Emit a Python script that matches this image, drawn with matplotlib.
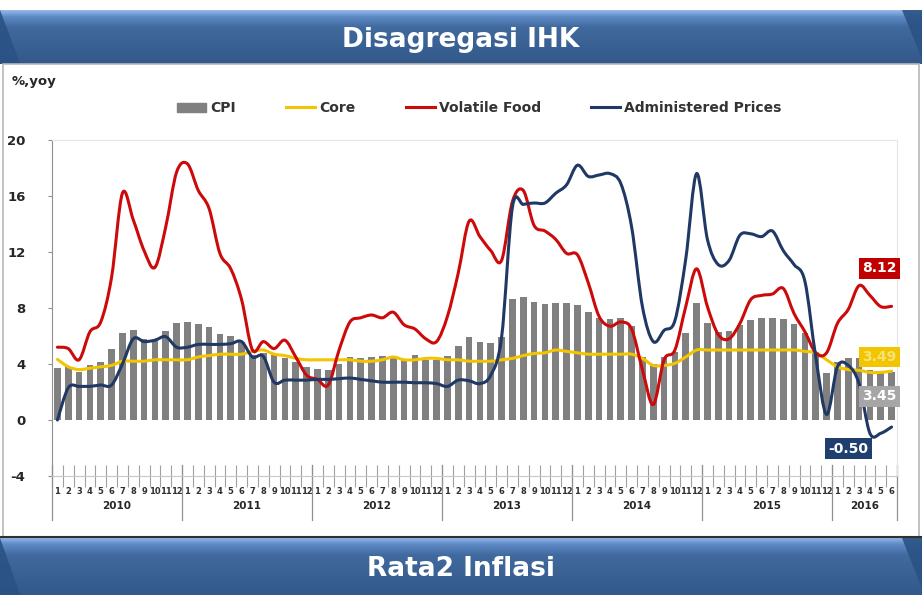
import matplotlib
matplotlib.use('Agg')
import matplotlib.pyplot as plt
from matplotlib.colors import LinearSegmentedColormap
from matplotlib.patches import Polygon, Rectangle, Patch, PathPatch
from matplotlib.lines import Line2D
from matplotlib.path import Path
import numpy as np

################################
## DATA:                      ##

years = [2010, 2011, 2012, 2013, 2014, 2015, 2016]
months_per_year = [12, 12, 12, 12, 12, 12, 6]

cpi = [3.72, 3.81, 3.43, 3.91, 4.16, 5.05, 6.22, 6.44, 5.80, 5.67, 6.33, 6.96,
       7.02, 6.84, 6.65, 6.16, 5.98, 5.54, 4.61, 4.79, 4.61, 4.42, 4.15, 3.79,
       3.65, 3.56, 3.97, 4.50, 4.45, 4.53, 4.56, 4.58, 4.31, 4.61, 4.32, 4.30,
       4.57, 5.31, 5.90, 5.57, 5.47, 5.90, 8.61, 8.79, 8.40, 8.32, 8.37, 8.38,
       8.22, 7.75, 7.32, 7.25, 7.32, 6.70, 4.53, 3.99, 4.53, 4.83, 6.23, 8.36,
       6.96, 6.29, 6.38, 6.79, 7.15, 7.26, 7.26, 7.18, 6.83, 6.25, 4.89, 3.35,
       4.14, 4.42, 4.45, 3.60, 3.33, 3.45]

core = [4.33, 3.8, 3.6, 3.7, 3.8, 3.9, 4.2, 4.2, 4.2, 4.3, 4.3, 4.3,
        4.3, 4.5, 4.6, 4.7, 4.7, 4.7, 4.9, 5.0, 4.7, 4.6, 4.4, 4.3,
        4.3, 4.3, 4.3, 4.3, 4.2, 4.2, 4.3, 4.5, 4.3, 4.3, 4.4, 4.4,
        4.3, 4.3, 4.2, 4.2, 4.2, 4.3, 4.4, 4.6, 4.75, 4.8, 5.0, 4.9,
        4.8, 4.7, 4.7, 4.7, 4.7, 4.7, 4.4, 3.9, 3.9, 4.05, 4.5, 5.0,
        5.0, 5.0, 5.0, 5.0, 5.0, 5.0, 5.0, 5.0, 5.0, 4.9, 4.8, 4.3,
        3.8, 3.6, 3.55, 3.4, 3.4, 3.49]

volatile_food = [5.2, 5.1, 4.3, 6.3, 7.0, 10.2, 16.2, 14.3, 12.1, 10.9, 13.8, 17.7,
                 18.3, 16.4, 15.1, 11.9, 10.8, 8.6, 5.0, 5.6, 5.1, 5.7, 4.5, 3.2,
                 2.9, 2.5, 5.0, 7.0, 7.3, 7.5, 7.3, 7.7, 6.8, 6.5, 5.8, 5.6,
                 7.4, 10.5, 14.2, 13.1, 12.1, 11.4, 15.6, 16.4, 13.9, 13.5, 12.9, 11.9,
                 11.8, 9.8, 7.4, 6.7, 7.0, 6.5, 3.6, 1.1, 4.3, 5.0, 8.1, 10.8,
                 8.1, 6.1, 5.8, 6.9, 8.6, 8.9, 9.0, 9.4, 7.6, 6.3, 4.8, 4.8,
                 6.9, 7.9, 9.6, 8.9, 8.1, 8.12]

administered = [0.0, 2.3, 2.4, 2.4, 2.5, 2.5, 4.0, 5.8, 5.6, 5.7, 5.95, 5.2,
                5.2, 5.4, 5.4, 5.4, 5.45, 5.6, 4.5, 4.55, 2.7, 2.85, 2.85, 2.85,
                2.9, 2.9, 2.95, 3.0, 2.9, 2.8, 2.7, 2.7, 2.7, 2.66, 2.66, 2.6,
                2.4, 2.85, 2.8, 2.6, 3.2, 5.9, 15.2, 15.4, 15.5, 15.5, 16.2, 16.8,
                18.2, 17.4, 17.5, 17.6, 16.9, 13.8, 8.1, 5.6, 6.4, 7.1, 11.5, 17.6,
                12.9, 11.1, 11.4, 13.2, 13.3, 13.1, 13.5, 12.1, 11.1, 9.9, 4.5, 0.4,
                3.8, 3.9, 2.6, -0.95, -0.95, -0.50]

y_ticks = [-4, 0, 4, 8, 12, 16, 20]

################################
## COLORS:                    ##

C_CPI = '#808080'
C_CORE = '#f2c500'
C_VF = '#cc0a0a'
C_AP = '#1f3864'
LW = 2.2

################################
## SETUP:                     ##

fig = plt.figure(figsize=(9.22, 5.95), dpi=100)
fig.patch.set_facecolor('white')

ax = fig.add_axes([52 / 922, 1 - 476 / 595, 845 / 922, 336 / 595])

n = len(cpi)
x = np.arange(n) + 0.5


def smooth_line(xs, ys, color, z):
    # excel-like smoothed line: bezier through every monthly value
    pts = np.column_stack([xs, ys])
    p = np.vstack([pts[0], pts, pts[-1]])
    verts = [pts[0]]
    codes = [Path.MOVETO]
    for i in range(len(pts) - 1):
        p0, p1, p2, p3 = p[i], p[i + 1], p[i + 2], p[i + 3]
        verts += [p1 + (p2 - p0) / 6, p2 - (p3 - p1) / 6, p2]
        codes += [Path.CURVE4] * 3
    ax.add_patch(PathPatch(Path(verts, codes), fill=False, ec=color, lw=LW, zorder=z,
                           capstyle='round', joinstyle='round'))


ax.bar(x, cpi, width=0.62, color=C_CPI, zorder=2)
smooth_line(x, core, C_CORE, 3)
smooth_line(x, volatile_food, C_VF, 4)
smooth_line(x, administered, C_AP, 5)

ax.set_xlim(0, n)
ax.set_ylim(-4, 20)
ax.set_yticks(y_ticks)
ax.set_yticklabels([str(t) for t in y_ticks], fontsize=9.5, fontweight='bold', color='#262626')
ax.tick_params(axis='y', length=3, color='#909090', pad=16)

# month labels + separators
month_labels = [str(m) for n_m in months_per_year for m in range(1, n_m + 1)]
ax.set_xticks(x)
ax.set_xticklabels(month_labels, fontsize=6, fontweight='bold', color='#303030')
ax.set_xticks(np.arange(n + 1), minor=True)
ax.tick_params(axis='x', which='major', length=0, pad=8)
ax.tick_params(axis='x', which='minor', direction='inout', length=16, color='#a0a0a0', width=0.8)

for s in ['top', 'right']:
    ax.spines[s].set_color('#e6e6e6')
ax.spines['left'].set_color('#909090')
ax.spines['bottom'].set_color('#c8c8c8')

# year separators and labels
trans = ax.get_xaxis_transform()
start = 0
for yr, nm in zip(years, months_per_year):
    ax.plot([start, start], [0.033, -0.131], transform=trans, color='#909090', lw=0.9, clip_on=False)
    ax.text(start + nm / 2, -0.088, str(yr), transform=trans, ha='center', va='center',
            fontsize=7.5, fontweight='bold', color='#262626')
    start += nm
ax.plot([start, start], [0.033, -0.131], transform=trans, color='#909090', lw=0.9, clip_on=False)


# last value boxes
def value_box(xv, yv, txt, face, tcolor='white'):
    ax.text(xv, yv, txt, ha='center', va='center', fontsize=10, fontweight='bold', color=tcolor,
            bbox=dict(boxstyle='square,pad=0.25', fc=face, ec='none'), zorder=8, clip_on=False)


value_box(76.4, 10.85, '%.2f' % volatile_food[-1], '#c00000')
value_box(76.4, 4.5, '%.2f' % core[-1], '#f2c500', '#f7e27a')
value_box(76.4, 1.7, '%.2f' % cpi[-1], '#a6a6a6')
value_box(73.5, -2.05, '%.2f' % administered[-1], '#1f3f6e')

################################
## TEXTS:                     ##

fig.text(12 / 922, 1 - 82 / 595, '%,yoy', fontsize=9.5, fontweight='bold', color='#262626',
         ha='left', va='center')

handles = [Patch(color=C_CPI), Line2D([], [], color=C_CORE, lw=LW),
           Line2D([], [], color=C_VF, lw=LW), Line2D([], [], color=C_AP, lw=LW)]
labels = ['CPI', 'Core', 'Volatile Food', 'Administered Prices']
leg = fig.legend(handles, labels, loc='center', bbox_to_anchor=(0.52, 1 - 108 / 595), ncol=4,
                 frameon=False, prop=dict(weight='bold', size=10), handlelength=2.1,
                 handleheight=0.6, columnspacing=3.6, handletextpad=0.3)
for t in leg.get_texts():
    t.set_color('#333333')

################################
## BANNERS:                   ##

banner_cmap = LinearSegmentedColormap.from_list(
    'banner', [(0, '#93b9ea'), (0.12, '#5d89c4'), (0.32, '#40699d'), (1, '#33598a')])
grad = np.linspace(0, 1, 64).reshape(-1, 1)


def banner(y_top, y_bot, text, text_y):
    bax = fig.add_axes([0, 1 - y_bot / 595, 1, (y_bot - y_top) / 595])
    bax.imshow(grad, cmap=banner_cmap, aspect='auto', extent=[0, 1, 0, 1], origin='upper')
    bax.set_xlim(0, 1)
    bax.set_ylim(0, 1)
    bax.axis('off')
    bax.add_patch(Polygon([(0, 1), (0.022, 0.0), (0, 0)], closed=True, fc='#2b5285', ec='none', alpha=0.9))
    bax.add_patch(Polygon([(0.978, 1), (1, 1), (1, 0.1)], closed=True, fc='#2b5285', ec='none', alpha=0.9))
    fig.text(0.5, 1 - text_y / 595, text, ha='center', va='center', fontsize=19,
             fontweight='bold', color='white')
    return bax


banner(10, 64, 'Disagregasi IHK', 40)
banner(538, 595, 'Rata2 Inflasi', 569)
fig.add_artist(Line2D([0, 1], [1 - 537 / 595] * 2, color='#303030', lw=1.5))

# frame round the chart area
fig.add_artist(Rectangle((0.003, 1 - 537 / 595), 0.994, (537 - 64) / 595, transform=fig.transFigure,
                         fill=False, ec='#b8b8b8', lw=1.2))

fig.savefig('out.png', dpi=100, facecolor='white')
